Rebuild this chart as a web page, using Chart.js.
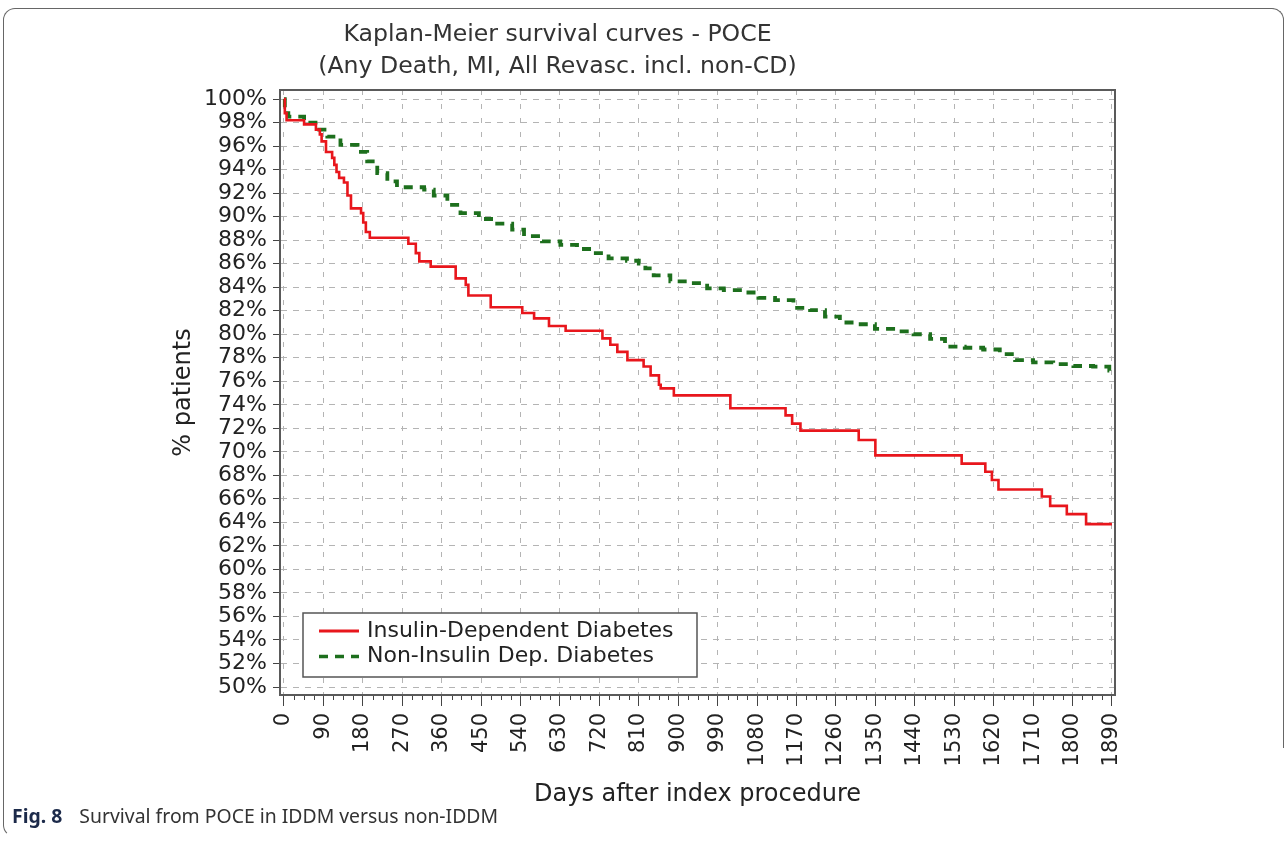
<!DOCTYPE html>
<html>
<head>
<meta charset="utf-8">
<script src="https://cdn.jsdelivr.net/npm/chart.js@4.4.0/dist/chart.umd.min.js"></script>
<style>
  html, body { margin: 0; padding: 0; background: #fff; width: 1287px; height: 843px; overflow: hidden; }
  #wrap { position: relative; width: 1287px; height: 843px; overflow: hidden; }
  #c { position: absolute; left: 0; top: 0; }
  #frameTop { position: absolute; left: 3px; top: 8px; width: 1281px; height: 740px; box-sizing: border-box;
    border-top: 1.5px solid #666; border-left: 1.5px solid #666; border-right: 1.5px solid #666;
    border-top-left-radius: 12px; border-top-right-radius: 12px; }
  #frameLeft { position: absolute; left: 3px; top: 300px; width: 30px; height: 537px; box-sizing: border-box;
    border-left: 1.5px solid #666; border-bottom: 1.5px solid transparent; border-bottom-left-radius: 12px; }
  #caption { position: absolute; left: 12px; top: 805px; font-family: "Noto Sans", "Open Sans", sans-serif;
    font-size: 19.4px; color: #333; white-space: nowrap; line-height: 22px; }
  #caption b { color: #1c2a4a; font-weight: 700; margin-right: 12px; }
</style>
</head>
<body>
<div id="wrap">
  <canvas id="c" width="1394" height="843" style="width:1394px;height:843px"></canvas>
  <div id="frameTop"></div>
  <div id="frameLeft"></div>
  <div id="caption"><b>Fig. 8</b> Survival from POCE in IDDM versus non-IDDM</div>
</div>
<script>
// ---------------- data ----------------
const titleLines = ['Kaplan-Meier survival curves - POCE', '(Any Death, MI, All Revasc. incl. non-CD)'];
const xAxisTitle = 'Days after index procedure';
const yAxisTitle = '% patients';
const seriesLabels = ['Insulin-Dependent Diabetes', 'Non-Insulin Dep. Diabetes'];

const xTickDays = [0, 90, 180, 270, 360, 450, 540, 630, 720, 810, 900, 990, 1080, 1170, 1260, 1350, 1440, 1530, 1620, 1710, 1800, 1890];
const yTickPct = [50, 52, 54, 56, 58, 60, 62, 64, 66, 68, 70, 72, 74, 76, 78, 80, 82, 84, 86, 88, 90, 92, 94, 96, 98, 100];

// Insulin-dependent (red): day of each step, survival (%) after the step
const iddmDays = [0, 2, 6, 46, 73, 82, 86, 96, 110, 115, 120, 126, 137, 145, 153, 176, 181, 187, 196, 284, 301, 309, 335, 392, 415, 421, 472, 544, 571, 605, 643, 727, 745, 761, 784, 821, 837, 856, 860, 890, 1019, 1145, 1160, 1179, 1312, 1350, 1547, 1601, 1616, 1631, 1730, 1749, 1787, 1831, 1890];
const iddmSurv = [100, 98.8, 98.2, 97.85, 97.4, 97.0, 96.4, 95.5, 95.0, 94.4, 93.8, 93.3, 92.9, 91.8, 90.7, 90.3, 89.5, 88.7, 88.2, 87.7, 86.9, 86.2, 85.75, 84.75, 84.2, 83.3, 82.3, 81.8, 81.35, 80.7, 80.3, 79.65, 79.1, 78.5, 77.8, 77.25, 76.5, 75.7, 75.4, 74.8, 73.7, 73.1, 72.4, 71.8, 71.0, 69.7, 69.0, 68.3, 67.6, 66.8, 66.2, 65.4, 64.7, 63.85, 63.85];

// Non-insulin-dependent (green)
const niddmDays = [0, 2, 10, 46, 72, 99, 129, 168, 190, 213, 236, 258, 320, 342, 373, 403, 445, 479, 521, 548, 589, 631, 669, 707, 741, 783, 810, 825, 844, 882, 927, 966, 1004, 1049, 1083, 1121, 1163, 1201, 1235, 1269, 1311, 1349, 1395, 1437, 1475, 1509, 1554, 1596, 1634, 1669, 1710, 1756, 1802, 1847, 1884, 1890];
const niddmSurv = [100, 98.8, 98.5, 98.0, 97.4, 96.8, 96.1, 95.5, 94.7, 93.7, 93.0, 92.5, 92.3, 91.8, 91.0, 90.3, 89.8, 89.4, 88.9, 88.35, 87.9, 87.6, 87.25, 86.9, 86.45, 86.25, 86.0, 85.6, 85.0, 84.5, 84.35, 83.9, 83.75, 83.55, 83.1, 82.9, 82.25, 82.05, 81.5, 81.0, 80.85, 80.45, 80.25, 80.0, 79.6, 78.95, 78.85, 78.7, 78.3, 77.8, 77.6, 77.45, 77.3, 77.25, 76.9, 76.9];

const toPoints = (xs, ys) => xs.map((x, i) => ({ x: x, y: ys[i] }));

const FONT = '"DejaVu Sans", Verdana, sans-serif';
Chart.defaults.font.family = FONT;
Chart.defaults.color = '#222';

// ---------------- plugins ----------------
const frameAndMinor = {
  id: 'frameAndMinor',
  afterDatasetsDraw(chart) {
    const { ctx, chartArea: a, scales } = chart;
    const xs = scales.x;
    ctx.save();
    // minor ticks on the x axis (every 22.5 days)
    ctx.strokeStyle = '#444';
    ctx.lineWidth = 1;
    ctx.beginPath();
    for (let i = 0; i < xTickDays.length - 1; i++) {
      const step = (xTickDays[i + 1] - xTickDays[i]) / 4;
      for (let k = 1; k < 4; k++) {
        const px = Math.round(xs.getPixelForValue(xTickDays[i] + k * step)) + 0.5;
        ctx.moveTo(px, a.bottom);
        ctx.lineTo(px, a.bottom + 5);
      }
    }
    ctx.stroke();
    // plot frame
    ctx.strokeStyle = '#5a5a5a';
    ctx.lineWidth = 2;
    ctx.strokeRect(a.left, a.top, a.right - a.left, a.bottom - a.top);
    ctx.restore();
  }
};

const boxLegend = {
  id: 'boxLegend',
  afterDraw(chart) {
    const { ctx, chartArea: a } = chart;
    const x0 = a.left + 23, y0 = a.bottom - 82, w = 394, h = 64;
    ctx.save();
    ctx.fillStyle = '#fff';
    ctx.fillRect(x0, y0, w, h);
    ctx.strokeStyle = '#555';
    ctx.lineWidth = 1.5;
    ctx.strokeRect(x0, y0, w, h);
    ctx.font = '22px ' + FONT;
    ctx.textBaseline = 'middle';
    ctx.textAlign = 'left';
    chart.data.datasets.forEach((ds, i) => {
      const cy = y0 + 18 + i * 25.5;
      ctx.beginPath();
      ctx.strokeStyle = ds.borderColor;
      ctx.lineWidth = ds.legendLineWidth;
      ctx.setLineDash(ds.borderDash || []);
      ctx.moveTo(x0 + 16, cy);
      ctx.lineTo(x0 + 56, cy);
      ctx.stroke();
      ctx.setLineDash([]);
      ctx.fillStyle = '#222';
      ctx.fillText(ds.label, x0 + 64, cy);
    });
    ctx.restore();
  }
};

// ---------------- chart ----------------
new Chart(document.getElementById('c'), {
  type: 'line',
  data: {
    datasets: [
      {
        label: seriesLabels[0],
        data: toPoints(iddmDays, iddmSurv),
        borderColor: '#e8161c',
        borderWidth: 2.6,
        legendLineWidth: 3,
        stepped: 'before',
        pointRadius: 0,
        fill: false
      },
      {
        label: seriesLabels[1],
        data: toPoints(niddmDays, niddmSurv),
        borderColor: '#1d6f1d',
        borderWidth: 3.8,
        legendLineWidth: 3.5,
        borderDash: [9, 7],
        stepped: 'before',
        pointRadius: 0,
        fill: false
      }
    ]
  },
  options: {
    responsive: false,
    animation: false,
    devicePixelRatio: 1,
    layout: { padding: { left: 0, right: 279, top: 0, bottom: 0 } },
    plugins: {
      legend: { display: false },
      tooltip: { enabled: false },
      title: {
        display: true,
        text: titleLines,
        color: '#333',
        font: { size: 23.6, weight: 'normal', lineHeight: 32 / 23.6 },
        padding: { top: 19, bottom: 7 }
      }
    },
    scales: {
      x: {
        type: 'linear',
        min: -9,
        max: 1897,
        afterBuildTicks: (s) => { s.ticks = xTickDays.map(v => ({ value: v })); },
        afterFit: (s) => { s.height = 148; },
        ticks: {
          autoSkip: false,
          maxRotation: 90,
          minRotation: 90,
          padding: 7,
          color: '#222',
          font: { size: 21 },
          callback: (v) => String(v)
        },
        grid: {
          color: '#b4b4b4',
          lineWidth: 1,
          drawTicks: true,
          tickLength: 11,
          tickColor: '#444',
          tickWidth: 1,
          tickBorderDash: []
        },
        border: { display: true, color: '#5a5a5a', width: 2, dash: [5, 9] },
        title: {
          display: true,
          text: xAxisTitle,
          color: '#222',
          font: { size: 24 },
          padding: { top: 4, bottom: 34 }
        }
      },
      y: {
        type: 'linear',
        min: 49.32,
        max: 100.77,
        afterBuildTicks: (s) => { s.ticks = yTickPct.map(v => ({ value: v })); },
        afterFit: (s) => { s.width = 280; },
        ticks: {
          autoSkip: false,
          padding: 6,
          color: '#222',
          font: { size: 22 },
          callback: (v) => v + '%'
        },
        grid: {
          color: '#b4b4b4',
          lineWidth: 1,
          drawTicks: true,
          tickLength: 7,
          tickColor: '#444',
          tickWidth: 1,
          tickBorderDash: []
        },
        border: { display: true, color: '#5a5a5a', width: 2, dash: [6, 6] },
        title: {
          display: true,
          text: yAxisTitle,
          color: '#222',
          font: { size: 24 },
          padding: { top: 169, bottom: 4 }
        }
      }
    }
  },
  plugins: [frameAndMinor, boxLegend]
});
</script>
</body>
</html>
